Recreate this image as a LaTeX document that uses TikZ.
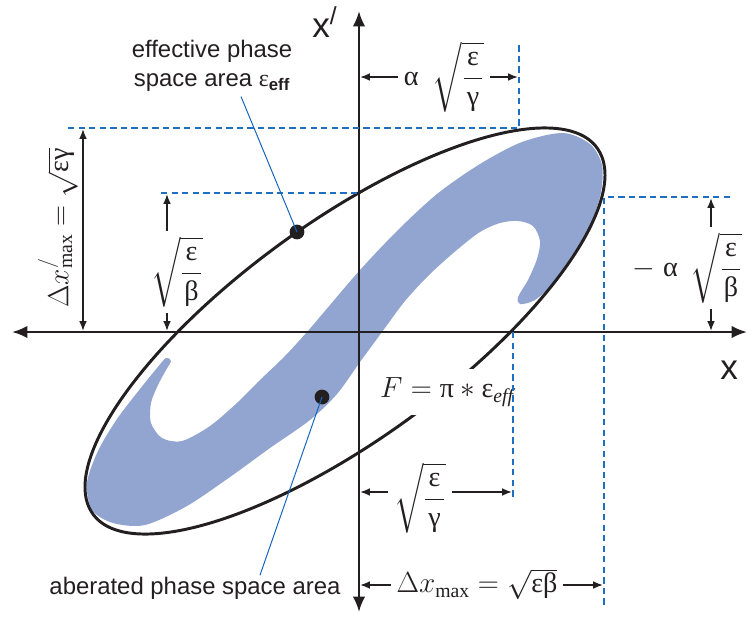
\documentclass[tikz,border=0pt]{standalone}
\usepackage{amsmath}
\usepackage{fontspec}
\setmainfont{Liberation Sans}
\newfontfamily\grfont{Liberation Serif}
\usepackage{xcolor}
\definecolor{phblue}{RGB}{146,164,208}
\definecolor{guideblue}{RGB}{31,111,192}
\definecolor{leadblue}{RGB}{20,100,190}
\definecolor{inkgray}{RGB}{35,31,32}
\usetikzlibrary{arrows.meta, positioning, calc}
\newcommand{\gk}[1]{\mbox{\grfont #1}}
\newcommand{\sub}[1]{\text{\grfont #1}}
\newcommand{\rootfrac}[2]{\sqrt{\dfrac{\hspace{2.5pt}\gk{#1}\vphantom{\gk{β}}\hspace{2.5pt}}{\gk{#2}}}}

\begin{document}
\begin{tikzpicture}[
    x=0.025cm, y=-0.025cm,
    >={Latex[length=7pt,width=5.5pt]},
    axis/.style={line width=1.8pt, inkgray, {Latex[length=11pt,width=9pt]}-{Latex[length=11pt,width=9pt]}},
    dimarrow/.style={line width=1.2pt, inkgray, ->},
    guide/.style={guideblue, line width=1pt, dash pattern=on 4.5pt off 3pt},
    leader/.style={leadblue, line width=0.7pt},
    dot/.style={circle, fill=inkgray, minimum size=10.5pt, inner sep=0pt},
    formula/.style={font=\fontsize{20}{24}\selectfont, text=inkgray, inner sep=4pt},
    caption/.style={font=\fontsize{17}{20.5}\selectfont, text=inkgray, align=center},
    axlabel/.style={font=\fontsize{25}{30}\selectfont, text=inkgray, inner sep=0pt}
]
\useasboundingbox (0,0) rectangle (748,619);

% aberrated phase space area
\fill[phblue] plot[smooth cycle, tension=0.5] coordinates {
    (563,133) (522,142) (480,164) (437,194) (397,231) (360,270) (330,305)
    (307,332) (284,357) (260,380) (238,402) (210,426) (182,441) (162,438)
    (151,423) (151,403) (158,385) (166,370) (171,361) (166,358) (157,368)
    (140,389) (117,419) (98,451) (87,483) (92,510) (113,523) (145,525)
    (187,506) (230,477) (270,448) (310,420) (337,394) (360,362) (382,332)
    (405,301) (430,274) (458,249) (480,232) (500,223) (518,221) (533,226)
    (540,241) (537,259) (528,280) (518,297) (520,304) (535,300) (556,281)
    (576,252) (592,221) (601,192) (602,165) (590,144)};

% effective phase space ellipse
\draw[line width=2.1pt, inkgray] plot[domain=0:360, samples=160, smooth]
    ({345+260*cos(\x)}, {331-156*cos(\x)-130*sin(\x)}) -- cycle;

\node[formula, fill=white, inner xsep=2pt, inner ysep=6pt] (arealbl) at (447,392)
    {$F = \gk{π} * \gk{ε}_{\text{\grfont\itshape eff}}$};

% axes
\coordinate (xleft) at (12,332);
\coordinate (xright) at (747,332);
\coordinate (ytop) at (359,11);
\coordinate (ybot) at (359,612);
\draw[axis] (xleft) -- (xright);
\draw[axis] (ybot) -- (ytop);
\node[axlabel, anchor=base west] (xplbl) at (312,37) {x\textsuperscript{/}};
\node[axlabel, anchor=base west] (xlbl) at (720,379) {x};

% guide lines
\draw[guide] (68,128) -- (519,128) -- (519,45);
\draw[guide] (161,193) -- (359,193);
\draw[guide] (730,197) -- (604,197) -- (604,608);
\draw[guide] (513,332) -- (513,497);

% dimension labels
\node[formula, rotate=90] (dxplbl) at (58,228)
    {$\Delta x^{/}_{\sub{max}} = \sqrt{\gk{εγ}}$};
\node[formula] (sqblbl) at (177,272) {$\rootfrac{ε}{β}$};
\node[formula, anchor=west] (asglbl) at (398,77) {$\gk{α}\enspace\rootfrac{ε}{γ}$};
\node[formula, anchor=east] (masblbl) at (748,268) {$-\;\gk{α}\;\,\rootfrac{ε}{β}$};
\node[formula] (sqglbl) at (420,498) {$\rootfrac{ε}{γ}$};
\node[formula] (dxlbl) at (477,584) {$\Delta x_{\sub{max}} = \sqrt{\gk{εβ}}$};

% dimension arrows
\coordinate (dxptop) at (83,129);
\coordinate (dxpbot) at (83,331);
\draw[dimarrow, <->] (dxptop) -- (dxpbot);

\coordinate (sqbup) at (167,194);
\coordinate (sqbdown) at (167,331);
\draw[dimarrow] (sqblbl.north -| sqbup) -- (sqbup);
\draw[dimarrow] (sqblbl.south -| sqbdown) -- (sqbdown);

\coordinate (asgleft) at (360,77);
\coordinate (asgright) at (518,77);
\draw[dimarrow] (asglbl.west) -- (asgleft);
\draw[dimarrow] (asglbl.east) -- (asgright);

\coordinate (masbup) at (711,198);
\coordinate (masbdown) at (711,331);
\draw[dimarrow] (masblbl.north -| masbup) -- (masbup);
\draw[dimarrow] (masblbl.south -| masbdown) -- (masbdown);

\coordinate (sqgleft) at (360,492);
\coordinate (sqgright) at (512,492);
\draw[dimarrow] (sqglbl.west |- sqgleft) -- (sqgleft);
\draw[dimarrow] (sqglbl.east |- sqgright) -- (sqgright);

\coordinate (dxleft) at (360,585);
\coordinate (dxright) at (603,585);
\draw[dimarrow] (dxlbl.west |- dxleft) -- (dxleft);
\draw[dimarrow] (dxlbl.east |- dxright) -- (dxright);

% callouts
\node[dot] (effdot) at (297,232) {};
\node[dot] (abdot) at (322,397) {};
\node[caption] (efflbl) at (212,66)
    {effective phase\\space area {\grfont ε}\textsubscript{\textbf{eff}}};
\node[caption, inner sep=1pt] (ablbl) at (195,588) {aberated phase space area};
\draw[leader] ($(efflbl.south)+(29,0)$) -- (effdot.center);
\draw[leader] ($(ablbl.north)+(65,0)$) -- (abdot.center);

\end{tikzpicture}
\end{document}
